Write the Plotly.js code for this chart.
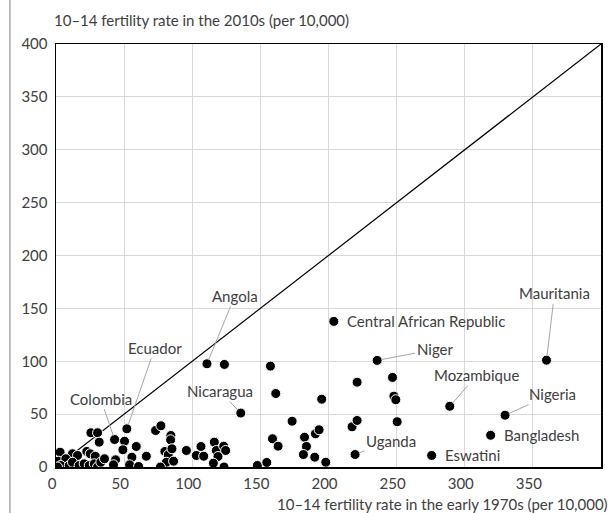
<!DOCTYPE html>
<html><head><meta charset="utf-8">
<script src="https://cdn.plot.ly/plotly-3.0.1.min.js"></script>
<style>html,body{margin:0;padding:0;background:#fff}#c{width:608px;height:513px}</style>
</head><body><div id="c"></div>
<script>
// Fertility rate ages 10–14 (per 10,000): early 1970s vs 2010s
const rate1970s = [25.6,30.5,31.7,3,12.1,15.8,22.6,25.1,28.8,1.8,7.2,3.5,1.1,9.7,12.1,17,20.7,24.4,28.1,30.5,32.9,
  52,43,50.3,49.1,58.9,35.6,43.7,42.2,55.7,54,60.6,66.3,
  73.1,77,84.3,84.1,79.9,82.4,85.1,81,86.3,76.6,95.7,106.4,103,108.4,116.2,117.7,123.1,124.5,118.9,115.5,123.3,147.8,154.7,
  110.8,123.6,157.4,135.6,
  203.9,235.7,221,247,248,249.4,161.3,195,173.3,158.9,163,182.4,183.8,181.6,190.4,193.1,189.9,198,217.3,221,219.5,250.4,275.7,
  360,289,329.6,319];
const rate2010s = [32.4,32.4,23.5,14,12.5,10.9,14.7,12.5,10.2,5.5,7.8,1.4,0,1.4,4.5,1.4,3,1.4,3,0,4.5,
  36.1,26,24.4,16.3,19.4,7.8,6.8,2.1,9.3,2.1,0.5,10.2,
  34.5,39,29.8,25.7,14.7,11.5,17.2,4.5,5.5,0,15.6,19.4,10.9,10.2,23.5,15.6,19.7,15.6,9.9,3.6,0,1.4,4.3,
  97.6,97,95.4,51,
  137.7,100.8,80.2,84.7,67,63.6,69.5,64.1,43.3,26.7,19.7,28.2,19.4,11.8,31.4,35.2,9.3,4.5,38,44,11.8,42.8,10.9,
  101,57.4,49,30];

// Labelled countries
const labelNames = ["Angola","Ecuador","Colombia","Nicaragua","Central African Republic","Niger","Mozambique","Mauritania","Nigeria","Bangladesh","Eswatini","Uganda"];
const labelX = [110.8,52,43,135.6,203.9,235.7,289,360,329.6,319,275.7,219.5];
const labelY = [97.6,36.1,26,51,137.7,100.8,57.4,101,49,30,10.9,11.8];
const labelAx = [28,28,-14,-21,0,58,27,8,47,0,0,36];
const labelAy = [-68,-81,-41,-22,0,-11,-31,-67,-21,0,0,-14];
const labelArrow = [true,true,true,true,false,true,true,true,true,false,false,true];

const ticks = [0,50,100,150,200,250,300,350,400];
const lineXY = [0,400];

const FONT = 'Lato, "Open Sans", sans-serif';
const TXT = '#404040';
const FS = 15;

const annotations = labelNames.map((n,i)=> labelArrow[i] ? {
  x: labelX[i], y: labelY[i], xref:'x', yref:'y', text:n, showarrow:true, arrowhead:0,
  arrowwidth:1, arrowcolor:'#a6a6a6', ax:labelAx[i], ay:labelAy[i], standoff:4,
  font:{family:FONT,size:FS,color:TXT}
} : {
  x: labelX[i], y: labelY[i], xref:'x', yref:'y', text:n, showarrow:false,
  xanchor:'left', yanchor:'middle', xshift:11,
  font:{family:FONT,size:FS,color:TXT}
});
annotations.push({xref:'paper',yref:'paper',x:-0.008,y:1.03,xanchor:'left',yanchor:'bottom',showarrow:false,
  text:'10–14 fertility rate in the 2010s (per 10,000)',font:{family:FONT,size:FS,color:TXT}});
annotations.push({xref:'paper',yref:'paper',x:1.016,y:-0.087,xanchor:'right',yanchor:'middle',showarrow:false,
  text:'10–14 fertility rate in the early 1970s (per 10,000)',font:{family:FONT,size:FS,color:TXT}});

const data = [
  {x:lineXY, y:lineXY, mode:'lines', line:{color:'#000',width:1.2}, hoverinfo:'skip', showlegend:false},
  {x:rate1970s, y:rate2010s, mode:'markers', type:'scatter',
   marker:{color:'#000', size:10, line:{color:'#fff', width:1}}, showlegend:false}
];

const layout = {
  width:608, height:513,
  margin:{l:56, r:7, t:44, b:46},
  paper_bgcolor:'#fff', plot_bgcolor:'#fff',
  font:{family:FONT, size:FS, color:TXT},
  xaxis:{range:[0,400], tickvals:ticks, ticks:'', showgrid:true, gridcolor:'#d9d9d9', gridwidth:1,
    zeroline:false, showline:true, linecolor:'#000', linewidth:1.5, mirror:true, fixedrange:true,
    ticklabelshift:-4, ticklabelstandoff:2,
    tickfont:{family:FONT,size:FS,color:TXT}},
  yaxis:{range:[0,400], tickvals:ticks, ticks:'', showgrid:true, gridcolor:'#d9d9d9', gridwidth:1,
    zeroline:false, showline:true, linecolor:'#000', linewidth:1.5, mirror:true, fixedrange:true,
    ticklabelstandoff:4,
    tickfont:{family:FONT,size:FS,color:TXT}},
  annotations: annotations,
  shapes:[{type:'line', xref:'paper', yref:'paper', x0:-0.0845, x1:-0.0845, y0:-0.12, y1:1.12,
    line:{color:'#7f7f7f', width:1}}]
};
Plotly.newPlot('c', data, layout, {displayModeBar:false, staticPlot:true});
</script></body></html>
